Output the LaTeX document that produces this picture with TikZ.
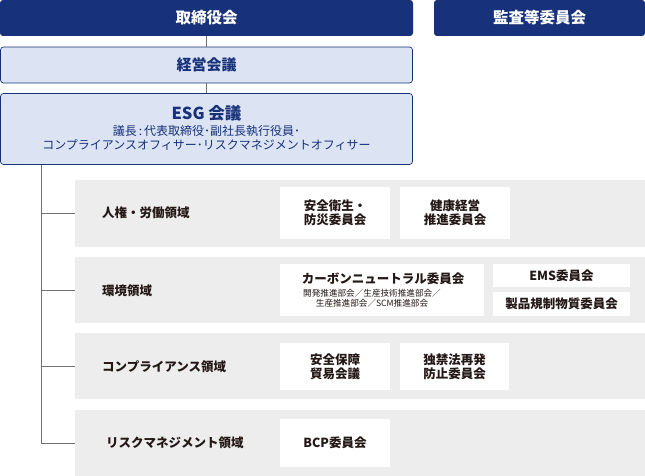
\documentclass[tikz,border=0pt]{standalone}
\usepackage{fontspec}
\setmainfont{Noto Sans CJK JP}
\definecolor{navy}{HTML}{17317B}
\definecolor{lightblue}{HTML}{DCE4F3}
\definecolor{bandgray}{HTML}{EDEDED}
\definecolor{linegray}{HTML}{707070}
\definecolor{txt}{HTML}{231815}
\begin{document}
\begin{tikzpicture}[x=1pt,y=-1pt,
 navybox/.style={fill=navy, rounded corners=3pt, text=white, inner sep=0pt, font=\bfseries\fontsize{15.5}{17}\selectfont},
 lightbox/.style={fill=lightblue, draw=navy, line width=0.7pt, rounded corners=3pt, text=navy, inner sep=0pt, align=center},
 band/.style={fill=bandgray, inner sep=0pt},
 bandlabel/.style={anchor=west, inner sep=0pt, text=txt, font=\bfseries\fontsize{12.5}{14}\selectfont},
 wbox/.style={fill=white, inner sep=0pt, align=center, text=txt, font=\bfseries\fontsize{12.5}{13.6}\selectfont},
 conn/.style={draw=linegray, line width=1pt}]
\useasboundingbox (0,0) rectangle (645,476);
% top
\node[navybox, minimum width=413pt, minimum height=36pt] (board) at (206.5,18) {取締役会};
\node[navybox, minimum width=211pt, minimum height=36pt] (audit) at (539.5,18) {監査等委員会};
\node[lightbox, minimum width=412pt, minimum height=36pt, font=\bfseries\fontsize{15}{17}\selectfont] (keiei) at (206.5,65) {経営会議};
\node[lightbox, minimum width=412pt, minimum height=71pt] (esg) at (206.5,129) {};
\node[inner sep=0pt, text=navy, font=\bfseries\fontsize{16.5}{18}\selectfont] (esgt) at (206.5,113) {ESG 会議};
\node[inner sep=0pt, text=navy, align=center, font=\fontsize{12}{14}\selectfont] (esgs) at (206.5,138) {議長\,:\,代表取締役･副社長執行役員･\\コンプライアンスオフィサー･リスクマネジメントオフィサー};
\draw[conn] (board.south) -- (keiei.north);
\draw[conn] (keiei.south) -- (esg.north);
% bands
\node[band, minimum width=570pt, minimum height=67pt] (b1) at (360,213.5) {};
\node[band, minimum width=570pt, minimum height=66pt] (b2) at (360,290) {};
\node[band, minimum width=570pt, minimum height=66pt] (b3) at (360,366) {};
\node[band, minimum width=570pt, minimum height=66pt] (b4) at (360,443) {};
\coordinate (t0) at (41,165);
\draw[conn] (t0) |- (b4.west);
\draw[conn] (t0 |- b1.west) -- (b1.west);
\draw[conn] (t0 |- b2.west) -- (b2.west);
\draw[conn] (t0 |- b3.west) -- (b3.west);
\node[bandlabel] (l1) at (102,213) {人権・労働領域};
\node[bandlabel] (l2) at (102,291) {環境領域};
\node[bandlabel] (l3) at (102,367) {コンプライアンス領域};
\node[bandlabel] (l4) at (106,443) {リスクマネジメント領域};
% white boxes
\node[wbox, minimum width=110pt, minimum height=52pt] (w11) at (335,213) {安全衛生・\\防災委員会};
\node[wbox, minimum width=110pt, minimum height=52pt] (w12) at (455,213) {健康経営\\推進委員会};
\node[wbox, minimum width=204pt, minimum height=52pt] (w21) at (382,290) {};
\node[inner sep=0pt, text=txt, font=\bfseries\fontsize{12.5}{14}\selectfont] (w21t) at (383,279) {カーボンニュートラル委員会};
\node[inner sep=0pt, text=txt, align=center, font=\fontsize{8.6}{10}\selectfont] (w21s) at (372,298) {開発推進部会／生産技術推進部会／\\生産推進部会／SCM推進部会};
\node[wbox, minimum width=137pt, minimum height=23pt] (w22) at (561.5,275.5) {EMS委員会};
\node[wbox, minimum width=137pt, minimum height=24pt] (w23) at (561.5,304) {製品規制物質委員会};
\node[wbox, minimum width=110pt, minimum height=47pt] (w31) at (335,366.5) {安全保障\\貿易会議};
\node[wbox, minimum width=109pt, minimum height=47pt] (w32) at (454.5,366.5) {独禁法再発\\防止委員会};
\node[wbox, minimum width=110pt, minimum height=48pt] (w41) at (335,443) {BCP委員会};
\end{tikzpicture}
\end{document}
